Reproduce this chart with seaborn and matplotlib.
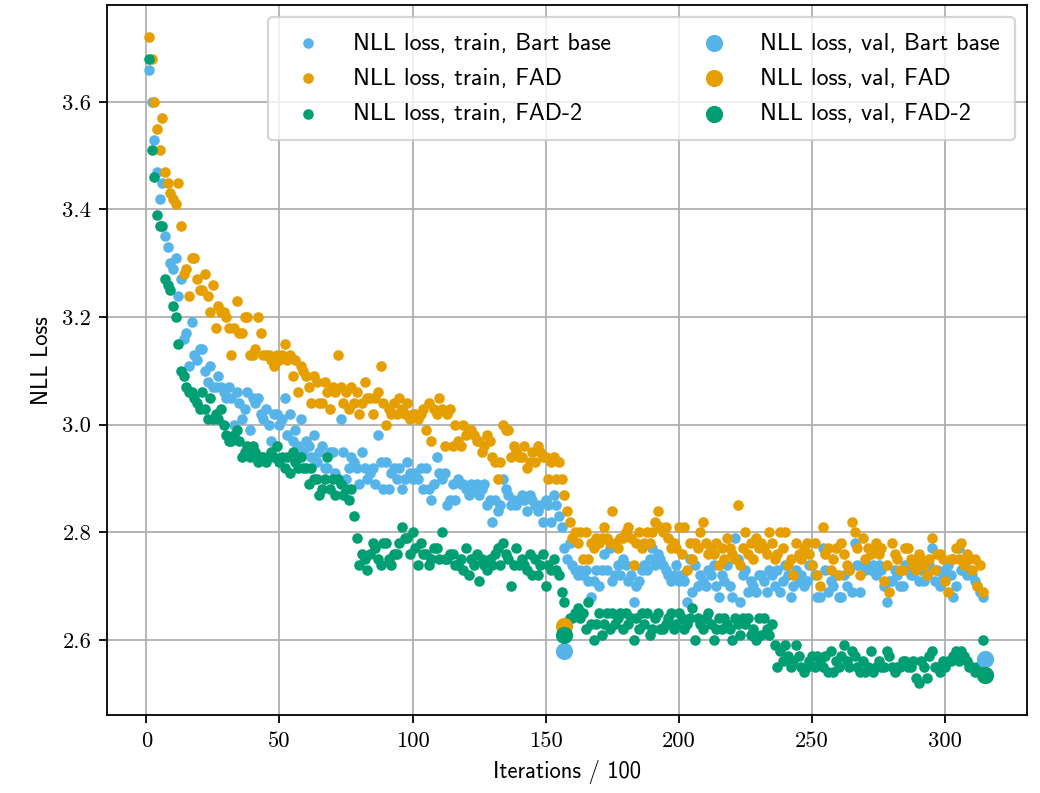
import numpy as np
import matplotlib
matplotlib.use("Agg")
import matplotlib.pyplot as plt
import seaborn as sns
from matplotlib.ticker import FuncFormatter

# train NLL loss per 100 iterations
bart_train = [
    3.66, 3.60, 3.53, 3.47, 3.42, 3.45, 3.35, 3.33, 3.30, 3.29,
    3.31, 3.24, 3.27, 3.16, 3.17, 3.11, 3.19, 3.13, 3.12, 3.14,
    3.14, 3.10, 3.08, 3.11, 3.07, 3.07, 3.09, 3.07, 3.06, 3.05,
    3.07, 3.05, 3.00, 3.06, 3.04, 3.01, 3.03, 3.06, 2.99, 3.05,
    3.04, 3.05, 3.02, 3.01, 3.03, 3.00, 2.97, 3.02, 3.02, 3.00,
    3.01, 3.05, 2.98, 3.02, 2.97, 2.99, 2.96, 3.01, 2.95, 2.97,
    2.96, 2.94, 2.98, 2.93, 2.95, 2.96, 2.92, 2.92, 2.95, 2.95,
    2.91, 2.90, 3.01, 2.95, 2.90, 2.92, 2.94, 2.93, 2.92, 2.89,
    2.95, 2.92, 2.90, 2.91, 2.92, 2.89, 2.98, 2.93, 2.88, 2.93,
    2.88, 2.91, 2.92, 2.90, 2.92, 2.88, 2.90, 2.93, 2.91, 2.90,
    2.91, 2.90, 2.92, 2.88, 2.92, 2.88, 2.86, 2.89, 2.94, 2.91,
    2.90, 2.91, 2.85, 2.86, 2.89, 2.86, 2.90, 2.89, 2.89, 2.88,
    2.87, 2.89, 2.88, 2.89, 2.87, 2.88, 2.89, 2.85, 2.86, 2.82,
    2.86, 2.84, 2.85, 2.90, 2.88, 2.87, 2.85, 2.86, 2.85, 2.86,
    2.87, 2.86, 2.84, 2.87, 2.86, 2.85, 2.84, 2.85, 2.82, 2.86,
    2.85, 2.82, 2.87, 2.85, 2.83, 2.81, 2.77, 2.75, 2.78, 2.74,
    2.73, 2.72, 2.73, 2.72, 2.73, 2.71, 2.68, 2.71, 2.73, 2.70,
    2.73, 2.76, 2.73, 2.77, 2.71, 2.72, 2.74, 2.72, 2.75, 2.74,
    2.71, 2.72, 2.67, 2.70, 2.71, 2.73, 2.74, 2.73, 2.75, 2.77,
    2.74, 2.76, 2.75, 2.74, 2.73, 2.72, 2.71, 2.72, 2.74, 2.71,
    2.72, 2.71, 2.67, 2.75, 2.69, 2.74, 2.70, 2.72, 2.71, 2.70,
    2.73, 2.72, 2.74, 2.70, 2.68, 2.72, 2.71, 2.74, 2.70, 2.68,
    2.79, 2.75, 2.67, 2.72, 2.73, 2.69, 2.71, 2.70, 2.69, 2.72,
    2.72, 2.71, 2.69, 2.73, 2.72, 2.70, 2.73, 2.69, 2.71, 2.74,
    2.72, 2.68, 2.70, 2.73, 2.71, 2.72, 2.70, 2.71, 2.74, 2.74,
    2.72, 2.68, 2.68, 2.77, 2.73, 2.69, 2.71, 2.70, 2.72, 2.68,
    2.68, 2.72, 2.70, 2.73, 2.69, 2.78, 2.74, 2.69, 2.74, 2.73,
    2.74, 2.73, 2.74, 2.72, 2.74, 2.73, 2.70, 2.67, 2.71, 2.71,
    2.73, 2.72, 2.70, 2.70, 2.74, 2.73, 2.72, 2.72, 2.74, 2.71,
    2.73, 2.71, 2.72, 2.74, 2.77, 2.71, 2.73, 2.70, 2.72, 2.73,
    2.74, 2.72, 2.68, 2.70, 2.77, 2.73, 2.74, 2.72, 2.73, 2.72,
    2.71, 2.70, 2.69, 2.68,
]

fad_train = [
    3.72, 3.68, 3.60, 3.55, 3.51, 3.57, 3.47, 3.45, 3.43, 3.42,
    3.41, 3.45, 3.37, 3.28, 3.29, 3.24, 3.31, 3.31, 3.27, 3.25,
    3.25, 3.28, 3.24, 3.21, 3.26, 3.18, 3.22, 3.21, 3.21, 3.20,
    3.18, 3.13, 3.18, 3.23, 3.17, 3.17, 3.20, 3.20, 3.13, 3.13,
    3.14, 3.20, 3.17, 3.13, 3.13, 3.13, 3.12, 3.11, 3.13, 3.12,
    3.13, 3.15, 3.12, 3.13, 3.09, 3.12, 3.06, 3.11, 3.10, 3.09,
    3.07, 3.04, 3.09, 3.08, 3.04, 3.04, 3.08, 3.06, 3.03, 3.07,
    3.06, 3.13, 3.07, 3.04, 3.06, 3.03, 3.07, 3.04, 3.06, 3.02,
    3.04, 3.08, 3.05, 3.05, 3.02, 3.05, 3.06, 3.11, 3.04, 3.00,
    3.03, 3.02, 3.04, 3.02, 3.05, 3.03, 3.02, 3.04, 3.01, 3.02,
    3.02, 3.01, 3.02, 3.03, 2.99, 3.04, 2.97, 3.03, 3.02, 3.05,
    3.03, 2.96, 3.02, 3.03, 2.96, 3.00, 2.97, 2.96, 3.00, 2.98,
    2.99, 2.99, 2.98, 2.97, 2.97, 2.95, 2.96, 2.98, 2.97, 2.94,
    2.93, 2.90, 2.93, 3.00, 2.99, 2.99, 2.94, 2.96, 2.95, 2.94,
    2.94, 2.96, 2.92, 2.93, 2.95, 2.93, 2.96, 2.95, 2.94, 2.94,
    2.90, 2.93, 2.94, 2.90, 2.93, 2.90, 2.87, 2.84, 2.82, 2.79,
    2.80, 2.78, 2.80, 2.75, 2.80, 2.75, 2.78, 2.77, 2.79, 2.78,
    2.79, 2.81, 2.79, 2.78, 2.84, 2.78, 2.77, 2.79, 2.79, 2.80,
    2.81, 2.79, 2.74, 2.78, 2.80, 2.77, 2.78, 2.80, 2.78, 2.80,
    2.82, 2.84, 2.81, 2.80, 2.81, 2.79, 2.77, 2.78, 2.77, 2.81,
    2.76, 2.81, 2.73, 2.78, 2.75, 2.78, 2.77, 2.80, 2.82, 2.78,
    2.76, 2.77, 2.76, 2.78, 2.74, 2.77, 2.75, 2.79, 2.77, 2.76,
    2.75, 2.85, 2.74, 2.77, 2.80, 2.76, 2.78, 2.75, 2.79, 2.77,
    2.78, 2.77, 2.76, 2.80, 2.78, 2.75, 2.76, 2.80, 2.77, 2.80,
    2.74, 2.75, 2.72, 2.78, 2.76, 2.75, 2.77, 2.78, 2.76, 2.74,
    2.78, 2.72, 2.70, 2.81, 2.76, 2.77, 2.73, 2.75, 2.77, 2.72,
    2.78, 2.76, 2.74, 2.73, 2.82, 2.80, 2.77, 2.72, 2.79, 2.75,
    2.77, 2.76, 2.77, 2.78, 2.76, 2.77, 2.71, 2.74, 2.69, 2.78,
    2.76, 2.75, 2.73, 2.73, 2.77, 2.77, 2.75, 2.74, 2.73, 2.76,
    2.75, 2.74, 2.72, 2.75, 2.79, 2.73, 2.76, 2.76, 2.75, 2.71,
    2.69, 2.75, 2.75, 2.77, 2.75, 2.78, 2.74, 2.76, 2.75, 2.73,
    2.75, 2.70, 2.74, 2.69,
]

fad2_train = [
    3.68, 3.51, 3.46, 3.39, 3.37, 3.37, 3.27, 3.26, 3.25, 3.22,
    3.20, 3.15, 3.10, 3.09, 3.07, 3.06, 3.06, 3.05, 3.04, 3.03,
    3.06, 3.03, 3.01, 3.05, 3.01, 3.02, 3.01, 3.03, 3.00, 2.98,
    2.97, 2.97, 2.98, 2.99, 2.97, 2.94, 2.95, 2.96, 2.94, 2.96,
    2.95, 2.93, 2.94, 2.94, 2.93, 2.94, 2.95, 2.94, 2.96, 2.93,
    2.94, 2.92, 2.94, 2.91, 2.95, 2.93, 2.92, 2.94, 2.92, 2.92,
    2.89, 2.92, 2.90, 2.90, 2.87, 2.88, 2.90, 2.94, 2.88, 2.90,
    2.87, 2.90, 2.89, 2.87, 2.88, 2.86, 2.88, 2.83, 2.79, 2.74,
    2.76, 2.75, 2.73, 2.76, 2.78, 2.77, 2.75, 2.74, 2.78, 2.78,
    2.75, 2.74, 2.76, 2.76, 2.78, 2.81, 2.79, 2.79, 2.76, 2.80,
    2.77, 2.74, 2.78, 2.76, 2.76, 2.74, 2.75, 2.77, 2.77, 2.75,
    2.80, 2.75, 2.75, 2.76, 2.76, 2.74, 2.74, 2.75, 2.73, 2.77,
    2.72, 2.75, 2.74, 2.76, 2.71, 2.75, 2.74, 2.73, 2.75, 2.74,
    2.76, 2.77, 2.74, 2.78, 2.76, 2.75, 2.70, 2.74, 2.77, 2.74,
    2.75, 2.74, 2.73, 2.76, 2.72, 2.75, 2.72, 2.74, 2.76, 2.70,
    2.74, 2.73, 2.75, 2.73, 2.72, 2.69, 2.67, 2.61, 2.64, 2.64,
    2.65, 2.66, 2.64, 2.65, 2.62, 2.67, 2.63, 2.60, 2.63, 2.65,
    2.61, 2.63, 2.65, 2.62, 2.65, 2.63, 2.64, 2.65, 2.62, 2.65,
    2.63, 2.64, 2.60, 2.64, 2.62, 2.65, 2.63, 2.65, 2.61, 2.62,
    2.64, 2.65, 2.62, 2.62, 2.63, 2.64, 2.65, 2.62, 2.63, 2.65,
    2.64, 2.62, 2.63, 2.64, 2.66, 2.60, 2.64, 2.63, 2.62, 2.64,
    2.65, 2.63, 2.60, 2.62, 2.64, 2.62, 2.64, 2.63, 2.62, 2.60,
    2.64, 2.63, 2.61, 2.64, 2.63, 2.64, 2.61, 2.62, 2.60, 2.64,
    2.61, 2.64, 2.62, 2.61, 2.63, 2.59, 2.55, 2.58, 2.56, 2.59,
    2.57, 2.55, 2.56, 2.59, 2.57, 2.55, 2.54, 2.55, 2.56, 2.57,
    2.55, 2.57, 2.56, 2.55, 2.57, 2.54, 2.58, 2.54, 2.56, 2.55,
    2.57, 2.59, 2.56, 2.55, 2.58, 2.57, 2.55, 2.54, 2.56, 2.54,
    2.55, 2.58, 2.54, 2.55, 2.56, 2.55, 2.55, 2.58, 2.57, 2.55,
    2.54, 2.55, 2.55, 2.56, 2.56, 2.55, 2.55, 2.56, 2.53, 2.52,
    2.56, 2.55, 2.53, 2.57, 2.58, 2.55, 2.55, 2.54, 2.56, 2.55,
    2.56, 2.56, 2.57, 2.58, 2.56, 2.58, 2.57, 2.56, 2.55, 2.55,
    2.54, 2.55, 2.55, 2.60,
]

# validation loss, evaluated twice
val_iters = [157, 315]
bart_val = [2.58, 2.565]
fad_val = [2.625, 2.535]
fad2_val = [2.61, 2.535]

models = ["Bart base", "FAD", "FAD-2"]
colors = ["#56B4E9", "#E69F00", "#009E73"]


def main():
    fig, ax = plt.subplots(figsize=(6.4, 4.88), dpi=162.5)
    fig.subplots_adjust(left=0.103, right=0.9875, top=0.9937, bottom=0.098)

    for vals, name, c in zip([bart_train, fad_train, fad2_train], models, colors):
        it = np.arange(1, len(vals) + 1)
        sns.scatterplot(x=it, y=vals, color=c, s=22, linewidth=0,
                        label=f"NLL loss, train, {name}", ax=ax, zorder=3)

    for vals, name, c in zip([bart_val, fad_val, fad2_val], models, colors):
        sns.scatterplot(x=val_iters, y=vals, color=c, s=58, linewidth=0,
                        label=f"NLL loss, val, {name}", ax=ax, zorder=4)

    ax.grid(True, color="#b0b0b0", linewidth=0.8)
    ax.set_axisbelow(True)
    ax.set_xlabel("Iterations / 100", fontfamily="cmss10", fontsize=10)
    ax.set_ylabel("NLL Loss", fontfamily="cmss10", fontsize=10)

    ax.xaxis.set_major_formatter(FuncFormatter(lambda v, p: f"{v:.0f}"))
    ax.yaxis.set_major_formatter(FuncFormatter(lambda v, p: f"{v:.1f}"))
    for lab in ax.get_xticklabels() + ax.get_yticklabels():
        lab.set_fontfamily("cmr10")
        lab.set_fontsize(10)

    ax.legend(ncol=2, loc="upper right", prop={"family": "cmss10", "size": 10.6},
              columnspacing=3.3, handletextpad=0.9, labelspacing=0.55,
              borderpad=0.65)

    fig.savefig("out.png", dpi=162.5)


if __name__ == "__main__":
    main()
